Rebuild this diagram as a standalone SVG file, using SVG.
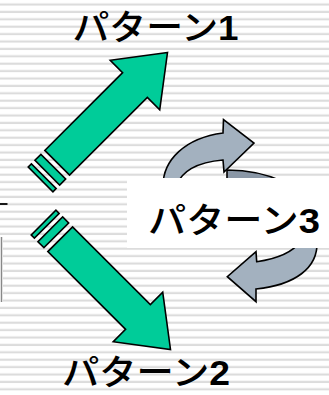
<svg xmlns="http://www.w3.org/2000/svg" width="329" height="395" viewBox="0 0 329 395">
  <defs>
    <pattern id="stripes" x="0" y="0" width="329" height="7.4" patternUnits="userSpaceOnUse">
      <rect x="0" y="3.4" width="329" height="2.2" fill="#dcdcdc"/>
    </pattern>
    <g id="bigArrow">
      <path d="M0,0 L-46,-35 L-46,-17.5 L-156,-17.5 L-156,17.5 L-46,17.5 L-46,35 Z"/>
      <rect x="-170" y="-17.5" width="8.5" height="35"/>
      <rect x="-179.5" y="-17.5" width="4.5" height="35"/>
    </g>
  </defs>
  <style>
    .green { fill: #00CC99; stroke: #000; stroke-width: 1.6; stroke-linejoin: miter; }
    .cyc { fill: #A3B1BF; stroke: #000; stroke-width: 1.6; stroke-linejoin: miter; }
    .cycDark { fill: #8A97A6; stroke: #000; stroke-width: 1.6; }
    .lbl { font-family: "Liberation Sans", "Noto Sans CJK JP", sans-serif; font-size: 35px; font-weight: 500; fill: #000; }
    .num { font-weight: 700; }
  </style>
  <rect x="0" y="0" width="329" height="395" fill="#ffffff"/>
  <rect x="3" y="0" width="326" height="395" fill="url(#stripes)"/>
  <rect x="0" y="0" width="3" height="236" fill="url(#stripes)"/>
  <rect x="0" y="303" width="3" height="92" fill="url(#stripes)"/>
  <line x1="0" y1="204" x2="7.5" y2="204" stroke="#000" stroke-width="1.8"/>
  <line x1="1.5" y1="237" x2="1.5" y2="302" stroke="#888" stroke-width="1.5"/>

  <g id="connectors">
    <use href="#bigArrow" class="green" transform="translate(167.5,52.5) rotate(-45)"/>
    <use href="#bigArrow" class="green" transform="translate(170.5,349.5) rotate(45)"/>
    <path class="cycDark" d="M227,182 L227,170 C245,170 265,173 284,182 Z"/>
    <path class="cyc" d="M163,186 C163,160 185,138 223,133 L223.5,119.5 L254,143 L224,172 L223,160 C200,162 182,170 176,186 Z"/>
    <path class="cyc" d="M317,242 C318,268 295,285 256,289 L256,301.7 L227.3,276.7 L256,251.7 L256.7,261.7 C275,259 292,253 300,242 Z"/>
  </g>

  <rect x="127" y="178" width="202" height="70" fill="#ffffff"/>

  <g id="pattern1">
    <text class="lbl" x="72.5" y="40" textLength="166" lengthAdjust="spacingAndGlyphs">パターン<tspan class="num">1</tspan></text>
  </g>
  <g id="pattern2">
    <text class="lbl" x="62" y="385" textLength="168" lengthAdjust="spacingAndGlyphs">パターン<tspan class="num">2</tspan></text>
  </g>
  <g id="pattern3">
    <text class="lbl" x="148" y="233" textLength="172" lengthAdjust="spacingAndGlyphs">パターン<tspan class="num">3</tspan></text>
  </g>
</svg>
